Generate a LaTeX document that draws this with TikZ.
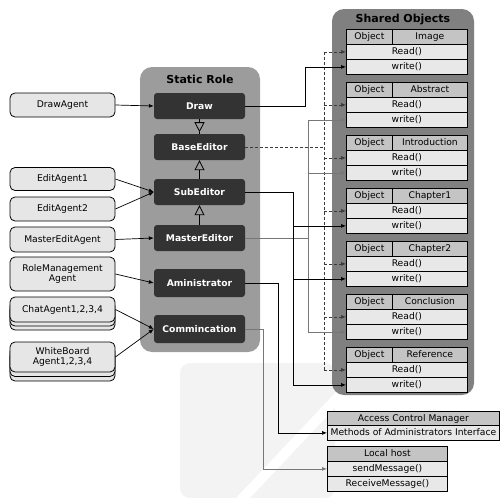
\documentclass[tikz,border=0pt]{standalone}
\usepackage{fontspec}
\setmainfont{DejaVu Sans}
\usetikzlibrary{arrows.meta}

\definecolor{statfill}{HTML}{9C9C9C}
\definecolor{sharedfill}{HTML}{808080}
\definecolor{rolefill}{HTML}{333333}
\definecolor{agentfill}{HTML}{E6E6E6}
\definecolor{headfill}{HTML}{C4C4C4}
\definecolor{rowfill}{HTML}{E8E8E8}
\definecolor{greylink}{HTML}{777777}
\definecolor{dashlink}{HTML}{3A3A3A}
\definecolor{wmark}{HTML}{F3F3F3}

% one object table: id, top edge, object name
\newcommand\objtab[3]{%
  \node[hcell, minimum width=46pt, anchor=north west] (#1-o) at (346,#2) {Object};
  \node[hcell, minimum width=75pt, anchor=north west] (#1-n) at (392,#2) {#3};
  \node[rcell, minimum width=121pt, anchor=north west] (#1-r) at (346,{#2+15}) {Read()};
  \node[rcell, minimum width=121pt, anchor=north west] (#1-w) at (346,{#2+30}) {write()};
}

\begin{document}
\begin{tikzpicture}[x=1pt,y=-1pt,
  font=\fontsize{9.2}{10.5}\selectfont,
  agent/.style={draw=black, line width=0.8pt, fill=agentfill, rounded corners=5pt,
    minimum width=105pt, inner sep=1pt, align=center},
  role/.style={fill=rolefill, rounded corners=3pt, text=white,
    font=\fontsize{9.2}{10.5}\selectfont\bfseries, minimum width=91pt, inner sep=1pt,
    text height=7pt, text depth=1pt},
  hcell/.style={draw=black, line width=0.8pt, fill=headfill, minimum height=15pt, inner sep=0pt,
    text height=7pt, text depth=1pt},
  rcell/.style={draw=black, line width=0.8pt, fill=rowfill, minimum height=15pt, inner sep=0pt,
    text height=7pt, text depth=1pt},
  link/.style={line width=0.7pt, -{Latex[length=5pt,width=4pt]}},
  glink/.style={line width=0.7pt, draw=greylink, -{Latex[length=5pt,width=4pt]}},
  dlink/.style={line width=0.7pt, draw=dashlink, dash pattern=on 3pt off 2pt, -{Latex[length=5pt,width=4pt]}},
  inhtip/.style={line width=0.8pt, -{Triangle[open,length=10pt,width=10pt]}},
]
\useasboundingbox (0,0) rectangle (501,498);

% faint background mark
\fill[wmark, rounded corners=10pt] (180,363) rectangle (335,498);
\fill[white] (236,498) -- (250,498) -- (350,392) -- (336,392) -- cycle;

% containers
\fill[statfill, rounded corners=12pt] (140,67) rectangle (260,352);
\node[font=\fontsize{11}{13}\selectfont\bfseries] (sttitle) at (200,79) {Static Role};
\fill[sharedfill, rounded corners=12pt] (332,9) rectangle (474,395);
\node[font=\fontsize{11}{13}\selectfont\bfseries] (shtitle) at (403,19.5) {Shared Objects};

% roles
\node[role, minimum height=26pt] (draw)   at (199.5,106) {Draw};
\node[role, minimum height=26pt] (base)   at (199.5,147) {BaseEditor};
\node[role, minimum height=26pt] (sub)    at (199.5,192) {SubEditor};
\node[role, minimum height=26pt] (master) at (199.5,238) {MasterEditor};
\node[role, minimum height=28pt] (admin)  at (199.5,283) {Aministrator};
\node[role, minimum height=28pt] (comm)   at (199.5,329) {Commincation};

% inheritance
\draw[inhtip] (draw.south) -- ++(0,13) coordinate (drawtip);
\draw[line width=0.8pt] (drawtip) -- (base.north);
\draw[inhtip] (sub.north) -- (base.south);
\draw[inhtip] (master.north) -- (sub.south);

% agents
\node[agent, minimum height=24pt] (dagent) at (62.5,105) {DrawAgent};
\node[agent, minimum height=23pt] (ea1) at (62.5,179) {EditAgent1};
\node[agent, minimum height=24pt] (ea2) at (62.5,209) {EditAgent2};
\node[agent, minimum height=25pt] (mea) at (62.5,239.5) {MasterEditAgent};
\node[agent, minimum height=34pt] (rma) at (62.5,274) {RoleManagement\\Agent};
\node[agent, minimum height=25pt] (chatb2) at (62.5,317.5) {};
\node[agent, minimum height=25pt] (chatb1) at (62.5,313.5) {};
\node[agent, minimum height=25pt] (chat) at (62.5,309.5) {ChatAgent1,2,3,4};
\node[agent, minimum height=30pt] (wbb2) at (62.5,366) {};
\node[agent, minimum height=30pt] (wbb1) at (62.5,361.5) {};
\node[agent, minimum height=30pt] (wb) at (62.5,357) {WhiteBoard\\Agent1,2,3,4};

\draw[link] (dagent.east) -- (draw.west);
\draw[link] (ea1.east) -- (sub.west);
\draw[link] (ea2.east) -- (sub.west);
\draw[link] (mea.east) -- (master.west);
\draw[link] (rma.east) -- (admin.west);
\draw[link] (chat.east) -- (comm.west);
\draw[link] (wb.east) -- (comm.west);

% object tables
\objtab{img}{29}{Image}
\objtab{abs}{82}{Abstract}
\objtab{intro}{135}{Introduction}
\objtab{ch1}{188}{Chapter1}
\objtab{ch2}{241}{Chapter2}
\objtab{conc}{294}{Conclusion}
\objtab{ref}{347}{Reference}

% service boxes
\node[hcell, minimum width=172pt, minimum height=14pt, anchor=north west] (acm) at (327,411) {Access Control Manager};
\node[rcell, minimum width=172pt, anchor=north west] (acmm) at (327,425) {Methods of Administrators Interface};
\node[hcell, minimum width=120pt, anchor=north west] (lh) at (327,446) {Local host};
\node[rcell, minimum width=120pt, anchor=north west] (lhs) at (327,461) {sendMessage()};
\node[rcell, minimum width=120pt, anchor=north west] (lhr) at (327,476) {ReceiveMessage()};

% bus positions
\coordinate (dbus) at (324,0);
\coordinate (gbus) at (308,0);
\coordinate (sbus) at (293,0);

% BaseEditor -> every Read()
\draw[line width=0.7pt, draw=dashlink, dash pattern=on 3pt off 2pt] (base.east) -- (base.east -| dbus);
\draw[line width=0.7pt, draw=dashlink, dash pattern=on 3pt off 2pt] (dbus |- img-r.west) -- (dbus |- ref-r.west);
\foreach \t in {img,abs,intro,ch1,ch2,conc,ref}
  \draw[dlink] (dbus |- \t-r.west) -- (\t-r.west);

% Draw -> Image write
\draw[link] (draw.east) -- ++(60,0) |- (img-w.west);

% MasterEditor -> Abstract, Introduction, Conclusion write
\draw[line width=0.7pt, draw=greylink] (master.east) -- (master.east -| gbus);
\draw[line width=0.7pt, draw=greylink] (gbus |- abs-w.west) -- (gbus |- conc-w.west);
\foreach \t in {abs,intro,conc}
  \draw[glink] (gbus |- \t-w.west) -- (\t-w.west);

% SubEditor -> Chapter1, Chapter2, Reference write
\draw[line width=0.7pt] (sub.east) -| (sbus |- ref-w.west);
\foreach \t in {ch1,ch2,ref}
  \draw[link] (sbus |- \t-w.west) -- (\t-w.west);

% Aministrator -> Access Control Manager
\draw[link] (admin.east) -- ++(33,0) |- (acmm.west);

% Commincation -> Local host
\draw[glink] (comm.east) -- ++(18,0) |- (lhs.west);

\end{tikzpicture}
\end{document}
